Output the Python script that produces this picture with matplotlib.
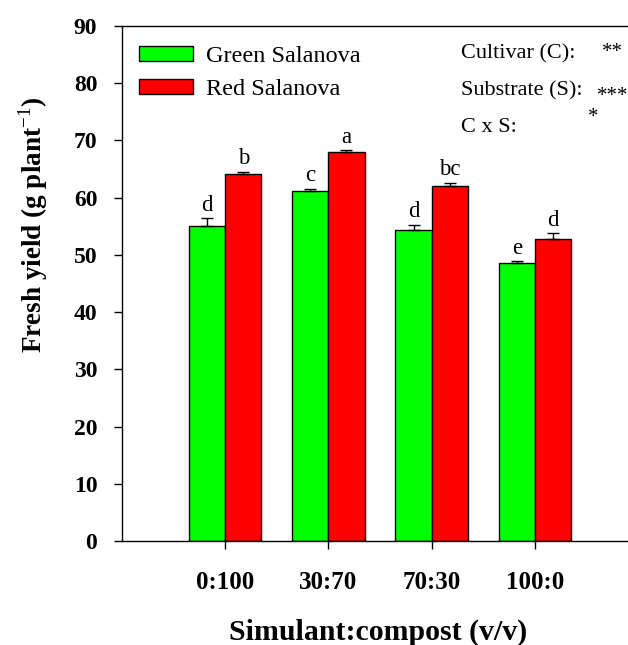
import numpy as np
import matplotlib
matplotlib.use("Agg")
import matplotlib.pyplot as plt

# === Daten ===
categories = ["0:100", "30:70", "70:30", "100:0"]
green_vals = [55.0, 61.2, 54.3, 48.6]
green_err = [1.4, 0.3, 0.9, 0.3]
red_vals = [64.1, 68.0, 62.0, 52.7]
red_err = [0.4, 0.3, 0.6, 1.1]
green_letters = ["d", "c", "d", "e"]
red_letters = ["b", "a", "bc", "d"]
series_names = ["Green Salanova", "Red Salanova"]
effects = ["Cultivar (C):", "Substrate (S):", "C x S:"]
effect_stars = ["**", "***", "*"]

plt.rcParams['font.family'] = 'Liberation Serif'
plt.rcParams['mathtext.fontset'] = 'custom'
plt.rcParams['mathtext.rm'] = 'Liberation Serif'
plt.rcParams['mathtext.bf'] = 'Liberation Serif:bold'

W, H = 628, 645
fig = plt.figure(figsize=(W / 100, H / 100), dpi=100)
# Achse: links x=122, unten y=541, oben y=26, rechts (abgeschnitten) x=638
ax = fig.add_axes([122 / W, (H - 541) / H, 516 / W, 515 / H])

x = np.arange(len(categories))
bw = 0.35
ax.bar(x - bw / 2, green_vals, bw, color='#00ff00', edgecolor='black', linewidth=1.0,
       label=series_names[0], zorder=2)
ax.bar(x + bw / 2, red_vals, bw, color='#ff0000', edgecolor='black', linewidth=1.0,
       label=series_names[1], zorder=2)
ax.errorbar(x - bw / 2, green_vals, yerr=[np.zeros(4), green_err], fmt='none',
            ecolor='black', elinewidth=1.0, capsize=4.3, capthick=1.0, zorder=3)
ax.errorbar(x + bw / 2, red_vals, yerr=[np.zeros(4), red_err], fmt='none',
            ecolor='black', elinewidth=1.0, capsize=4.3, capthick=1.0, zorder=3)

# Buchstaben ueber den Balken
for i in range(len(categories)):
    ax.annotate(green_letters[i], (x[i] - bw / 2, green_vals[i] + green_err[i]),
                xytext=(0, 5.5), textcoords='offset points', ha='center',
                va='baseline', fontsize=16.5)
    ax.annotate(red_letters[i], (x[i] + bw / 2, red_vals[i] + red_err[i]),
                xytext=(0, 5.5), textcoords='offset points', ha='center',
                va='baseline', fontsize=16.5)

ax.set_xlim(-1, 4)
ax.set_ylim(0, 90)
ax.set_yticks(np.arange(0, 91, 10))
ax.set_xticks(x)
ax.set_xticklabels(categories)
ax.spines['right'].set_visible(False)
for s in ['left', 'bottom', 'top']:
    ax.spines[s].set_linewidth(1.0)
ax.tick_params(axis='y', direction='out', length=5.8, width=1.0, pad=12, labelsize=17)
ax.tick_params(axis='x', direction='out', length=5.8, width=1.0, pad=16, labelsize=18)
for lab in ax.get_xticklabels() + ax.get_yticklabels():
    lab.set_fontweight('bold')

fig.text(33 / W, 1 - 225 / H, r'Fresh yield (g plant$^{\mathrm{-1}}$)', rotation=90,
         ha='center', va='center', fontsize=19.5, fontweight='bold')
fig.text(378 / W, 1 - 632 / H, 'Simulant:compost (v/v)', ha='center', va='center',
         fontsize=21.5, fontweight='bold')

leg = ax.legend(loc='upper left', bbox_to_anchor=(139 / W, 1 - 46 / H),
                bbox_transform=fig.transFigure, frameon=False, fontsize=17.5,
                handlelength=2.22, handleheight=0.58, handletextpad=0.55,
                labelspacing=0.5, borderpad=0, borderaxespad=0)

# Signifikanzen (Sterne mit eigener Position)
star_x = [602, 597, 588]
star_base = [57, 101, 122]
for k, (lab, st) in enumerate(zip(effects, effect_stars)):
    fig.text(461 / W, 1 - (58.3 + 36.7 * k) / H, lab, ha='left', va='baseline', fontsize=16)
    fig.text(star_x[k] / W, 1 - star_base[k] / H, st, ha='left', va='baseline', fontsize=15)

fig.savefig("out.png", dpi=100)
